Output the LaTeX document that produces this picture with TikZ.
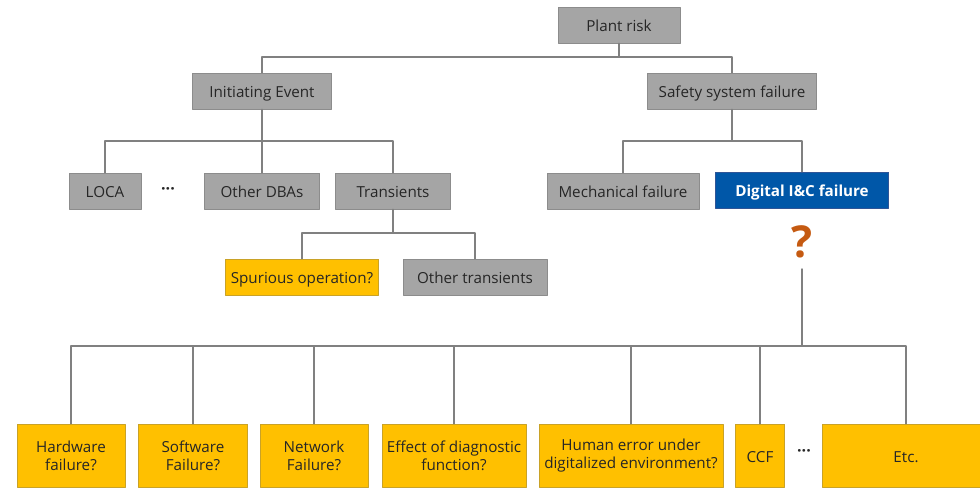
\documentclass[tikz,border=0pt]{standalone}
\usepackage{fontspec}
\setmainfont{Open Sans}
\definecolor{boxgrey}{HTML}{A5A5A5}
\definecolor{greyedge}{HTML}{8C8C8C}
\definecolor{amber}{HTML}{FFC000}
\definecolor{amberedge}{HTML}{C9A227}
\definecolor{icblue}{HTML}{0057A8}
\definecolor{blueedge}{HTML}{2F5597}
\definecolor{qorange}{HTML}{C55A11}
\definecolor{linegrey}{HTML}{808080}
\definecolor{textdark}{HTML}{262626}
\begin{document}
\begin{tikzpicture}[x=0.75pt, y=-0.75pt, line cap=round, line join=round,
		boxfont/.style={font=\fontsize{11.4}{13.5}\selectfont},
		oneline/.style={text height=10.4pt, text depth=0pt},
		greybox/.style={boxfont, oneline, draw=greyedge, fill=boxgrey, text=textdark, minimum height=27pt, inner sep=0pt},
		amberbox/.style={boxfont, draw=amberedge, fill=amber, text=textdark, minimum height=47.25pt, inner sep=0pt, align=center},
		bluebox/.style={oneline, draw=blueedge, fill=icblue, text=white, font=\bfseries\fontsize{11.4}{13.5}\selectfont, minimum height=27pt, inner sep=0pt},
		dotmark/.style={font=\bfseries\fontsize{12}{14}\selectfont, text=textdark, inner sep=0pt},
		link/.style={draw=linegrey, line width=0.8pt}]
				\useasboundingbox (0,0) rectangle (980,488);
				
				% Các hộp phía trên
				\node[greybox, minimum width=91.5pt] (plant) at (619,25) {Plant risk};
				\node[greybox, minimum width=104.25pt] (init) at (262,91) {Initiating Event};
				\node[greybox, minimum width=126.75pt] (safety) at (732,91) {Safety system failure};
				
				\node[greybox, minimum width=54pt] (loca) at (105,191) {LOCA};
				\node[dotmark] (dots1) at (168,191) {···};
				\node[greybox, minimum width=86.25pt] (dbas) at (262,191) {Other DBAs};
				\node[greybox, minimum width=86.25pt] (trans) at (393,191) {Transients};
				\node[amberbox, oneline, minimum width=114.75pt, minimum height=27pt] (spur) at (302,277) {Spurious operation?};
				\node[greybox, minimum width=108pt] (othtr) at (475,277) {Other transients};
				
				\node[greybox, minimum width=114pt] (mech) at (623,191) {Mechanical failure};
				\node[bluebox, minimum width=129.75pt] (dic) at (802,190) {Digital I\&C failure};
				\node[text=qorange, font=\bfseries\fontsize{33}{38}\selectfont, inner sep=0pt] (quest) at (802,242) {?};
				
				% Các hộp phía dưới
				\node[amberbox, minimum width=81pt] (hw) at (71,455.5) {Hardware\\failure?};
				\node[amberbox, minimum width=81.75pt] (sw) at (193,455.5) {Software\\Failure?};
				\node[amberbox, minimum width=81pt] (nw) at (314,455.5) {Network\\Failure?};
				\node[amberbox, minimum width=108pt] (eff) at (454,455.5) {Effect of diagnostic\\function?};
				\node[amberbox, minimum width=138pt] (hum) at (631,455.5) {Human error under\\digitalized environment?};
				\node[amberbox, oneline, minimum width=36.75pt] (ccf) at (760,455.5) {CCF};
				\node[dotmark] (dots2) at (804,453) {···};
				\node[amberbox, oneline, minimum width=126pt] (etc) at (906,455.5) {Etc.};
				
				% Các điểm nối
				\coordinate (bus1) at (619,57);
				\coordinate (bus2) at (262,141);
				\coordinate (bus3) at (393,233);
				\coordinate (bus4) at (732,141);
				\coordinate (qtail) at (802,269);
				\coordinate (bus5) at (802,346);
				
				% Vẽ các đường nối
				\draw[link] (plant.south) -- (bus1);
				\draw[link] (init.north) |- (bus1) -| (safety.north);
				\draw[link] (init.south) -- (bus2) -- (dbas.north);
				\draw[link] (loca.north) |- (bus2) -| (trans.north);
				\draw[link] (trans.south) -- (bus3);
				\draw[link] (spur.north) |- (bus3) -| (othtr.north);
				\draw[link] (safety.south) -- (bus4);
				\draw[link] (mech.north) |- (bus4) -| (dic.north);
				\draw[link, line width=1.1pt] (qtail) -- (bus5);
				\draw[link] (hw.north) |- (bus5) -| (etc.north);
				\foreach \b in {sw, nw, eff, hum, ccf}
					\draw[link] (\b.north) -- (\b.north |- bus5);
		\end{tikzpicture}
\end{document}
